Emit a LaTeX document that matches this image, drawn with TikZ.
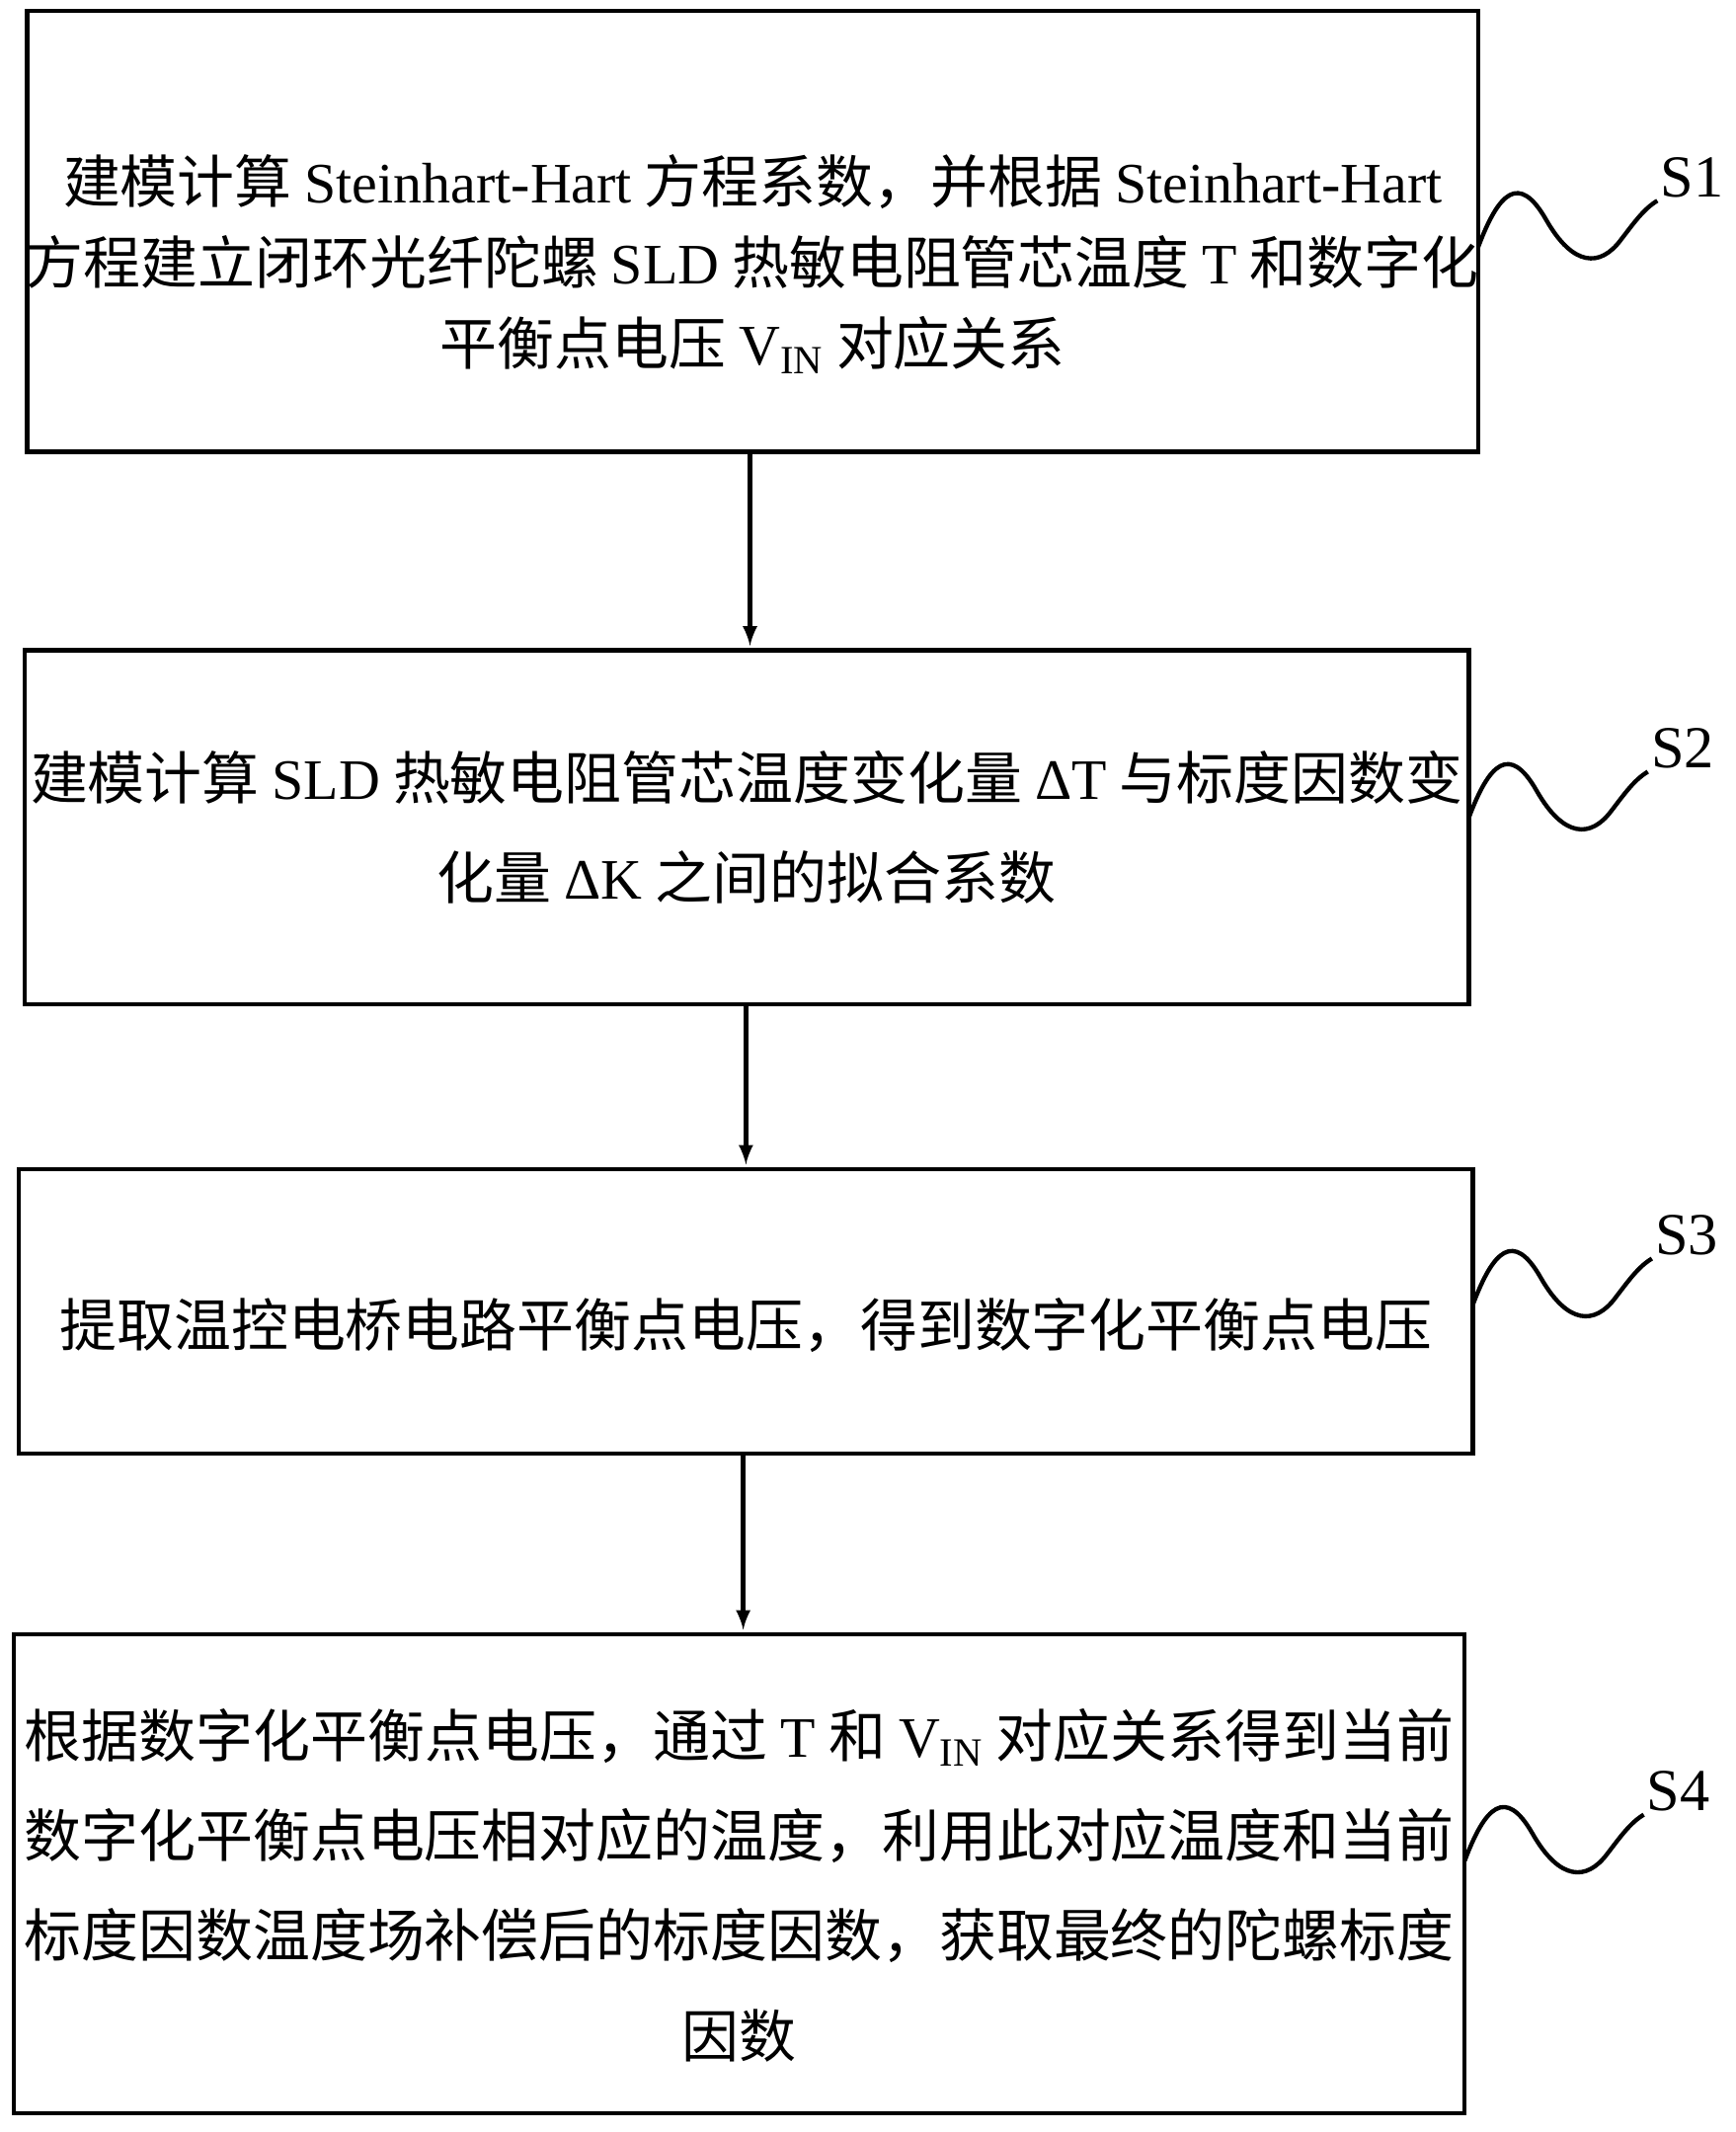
\documentclass[tikz,border=0pt]{standalone}
\usepackage{fontspec}
\setmainfont{Noto Sans CJK SC}
\newfontfamily\lat{Liberation Serif}
\usetikzlibrary{positioning}
\newcommand{\squiggle}[2]{% start point (box edge), label
  \begin{scope}[shift={(#1)}]
  \draw[line] (0,0) .. controls (15,-40) and (30,-55) .. (50,-20)
    .. controls (70,15) and (90,15) .. (105,-5)
    .. controls (115,-18) and (122,-28) .. (132,-34)
    node[above right=-4pt, font=\lat\fontsize{25}{28}\selectfont] {#2};
  \end{scope}}
\begin{document}
\begin{tikzpicture}
  [x=0.02cm, y=-0.02cm,
  line/.style={line width=1.8pt},
  stepbox/.style={draw, line, inner sep=0pt, align=center, font=\fontsize{24}{34}\selectfont},
  flow/.style={-latex, line, shorten >=1pt}]

  \useasboundingbox (0,0) rectangle (1280,1572);

  % boxes
  \node[stepbox, minimum width=1070*0.02cm, minimum height=325*0.02cm] (s1) at (555,170.5) {};
  \node[align=center, font=\fontsize{24}{34}\selectfont] (t1) at (555,195)
    {建模计算 {\lat Steinhart-Hart} 方程系数，并根据 {\lat Steinhart-Hart}\\
     方程建立闭环光纤陀螺 {\lat SLD} 热敏电阻管芯温度 {\lat T} 和数字化\\
     平衡点电压 {\lat V\textsubscript{IN}} 对应关系};
  \node[stepbox, minimum width=1065*0.02cm, minimum height=261*0.02cm, font=\fontsize{24}{42}\selectfont] (s2) at (550.5,610)
    {建模计算 {\lat SLD} 热敏电阻管芯温度变化量 {\lat ΔT} 与标度因数变\\
     化量 {\lat ΔK} 之间的拟合系数};
  \node[stepbox, minimum width=1072*0.02cm, minimum height=210*0.02cm] (s3) at (550,967) {};
  \node[font=\fontsize{24}{34}\selectfont] (t3) at (550,977)
    {提取温控电桥电路平衡点电压，得到数字化平衡点电压};
  \node[stepbox, minimum width=1070*0.02cm, minimum height=353*0.02cm, font=\fontsize{24}{42}\selectfont] (s4) at (545,1381.5) {};
  \node[align=center, font=\fontsize{24}{42}\selectfont] (t4) at (545,1390)
    {根据数字化平衡点电压，通过 {\lat T} 和 {\lat V\textsubscript{IN}} 对应关系得到当前\\
     数字化平衡点电压相对应的温度，利用此对应温度和当前\\
     标度因数温度场补偿后的标度因数，获取最终的陀螺标度\\
     因数};

  % arrows
  \draw[flow] (s1.south -| 553,0) -- (s2.north -| 553,0);
  \draw[flow] (s2.south -| 550,0) -- (s3.north -| 550,0);
  \draw[flow] (s3.south -| 548,0) -- (s4.north -| 548,0);

  % step labels
  \coordinate (w1) at (1090,182);
  \coordinate (w2) at (1083,603);
  \coordinate (w3) at (1086,962);
  \coordinate (w4) at (1080,1372);
  \squiggle{w1}{S1}
  \squiggle{w2}{S2}
  \squiggle{w3}{S3}
  \squiggle{w4}{S4}
\end{tikzpicture}
\end{document}
